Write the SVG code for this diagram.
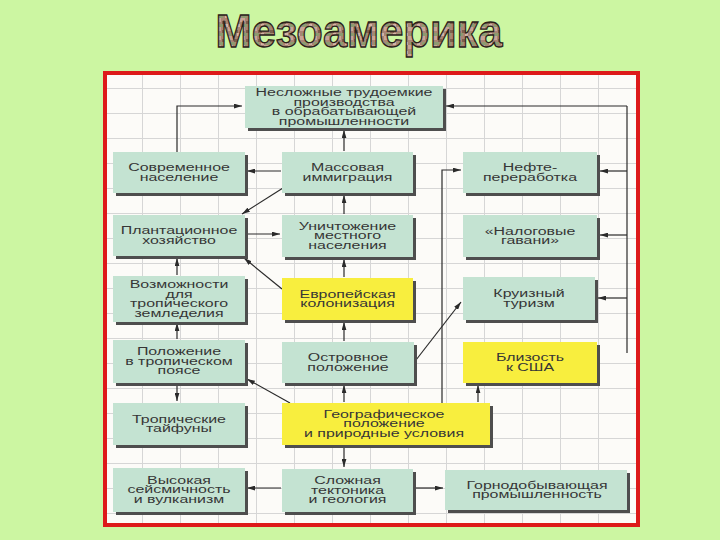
<svg xmlns="http://www.w3.org/2000/svg" width="720" height="540" viewBox="0 0 720 540">
<style>
.bg{fill:#ccf6a2}
.frame{fill:url(#grid);stroke:#dd1a1a;stroke-width:4}
.sh{fill:#4e4e4e}
.g{fill:#c4e3d2}
.y{fill:#f8ee3e}
.t{font-family:"Liberation Sans",Arial,sans-serif;font-size:11px;fill:#363636;text-anchor:middle}
.c{stroke:#2a2a2a;stroke-width:1.2;fill:none}
.a{marker-end:url(#ah)}
.title{font-family:"Liberation Sans",Arial,sans-serif;font-weight:bold;font-size:47px;fill:url(#tex);stroke:#2a2018;stroke-width:1.3;text-anchor:middle}
</style>
<defs>
<pattern id="grid" patternUnits="userSpaceOnUse" x="142" y="88" width="38" height="25">
<rect width="38" height="25" fill="#fcfbf8"/>
<path d="M0.5 0V25M0 0.5H38" stroke="#d6d6d6" stroke-width="1"/>
</pattern>
<pattern id="tex" patternUnits="userSpaceOnUse" width="12" height="9">
<rect width="12" height="9" fill="#a98574"/>
<rect x="0" y="0" width="5" height="4" fill="#c9a496"/>
<rect x="6" y="3" width="4" height="3" fill="#7d5f4e"/>
<rect x="2" y="6" width="5" height="3" fill="#8e9a70"/>
<rect x="9" y="6" width="3" height="3" fill="#d3b3a5"/>
</pattern>
<marker id="ah" viewBox="0 0 10 6" refX="10" refY="3" markerWidth="8" markerHeight="5" markerUnits="userSpaceOnUse" orient="auto">
<path d="M0 0L10 3L0 6z" fill="#2a2a2a"/>
</marker>
</defs>
<rect class="bg" x="0" y="0" width="720" height="540"/>
<text class="title" x="359" y="47" textLength="287" lengthAdjust="spacingAndGlyphs">Мезоамерика</text>
<rect class="frame" x="105" y="73" width="533" height="452"/>

<g id="connectors">
<polyline class="c a" points="177,152 177,106 242,106"/>
<line class="c a" x1="344" y1="151" x2="344" y2="130"/>
<line class="c a" x1="281" y1="171" x2="247" y2="171"/>
<line class="c a" x1="283" y1="188" x2="242" y2="214"/>
<line class="c a" x1="246" y1="234" x2="280" y2="234"/>
<line class="c a" x1="344" y1="214" x2="344" y2="195"/>
<line class="c a" x1="344" y1="277" x2="344" y2="259"/>
<line class="c a" x1="282" y1="289" x2="244" y2="258"/>
<line class="c a" x1="177" y1="275" x2="177" y2="258"/>
<line class="c a" x1="177" y1="339" x2="177" y2="323"/>
<line class="c a" x1="344" y1="341" x2="344" y2="322"/>
<line class="c a" x1="344" y1="402" x2="344" y2="385"/>
<line class="c a" x1="177" y1="384" x2="177" y2="401"/>
<line class="c a" x1="290" y1="403" x2="247" y2="379"/>
<line class="c a" x1="344" y1="446" x2="344" y2="467"/>
<line class="c a" x1="281" y1="488" x2="247" y2="488"/>
<line class="c a" x1="416" y1="488" x2="443" y2="488"/>
<line class="c a" x1="478" y1="402" x2="478" y2="385"/>
<polyline class="c a" points="442,403 442,170 461,170"/>
<line class="c a" x1="416" y1="360" x2="461" y2="302"/>
<line class="c" x1="627" y1="106" x2="627" y2="353"/>
<line class="c a" x1="627" y1="106" x2="446" y2="106"/>
<line class="c a" x1="627" y1="171" x2="600" y2="171"/>
<line class="c a" x1="627" y1="235" x2="600" y2="235"/>
<line class="c a" x1="627" y1="298" x2="598" y2="298"/>
</g>

<g id="n1"><rect class="sh" x="248" y="89" width="198" height="42"/><rect class="g" x="245" y="86" width="198" height="42"/>
<text class="t" transform="translate(344 0) scale(1.45 1)"><tspan x="0" y="96.25">Несложные трудоемкие</tspan><tspan x="0" y="105.75">производства</tspan><tspan x="0" y="115.25">в обрабатывающей</tspan><tspan x="0" y="124.75">промышленности</tspan></text></g>

<g id="n2"><rect class="sh" x="116" y="155" width="132" height="41"/><rect class="g" x="113" y="152" width="132" height="41"/>
<text class="t" transform="translate(179 0) scale(1.45 1)"><tspan x="0" y="171.25">Современное</tspan><tspan x="0" y="180.75">население</tspan></text></g>

<g id="n3"><rect class="sh" x="285" y="155" width="131" height="41"/><rect class="g" x="282" y="152" width="131" height="41"/>
<text class="t" transform="translate(347.5 0) scale(1.45 1)"><tspan x="0" y="171.25">Массовая</tspan><tspan x="0" y="180.75">иммиграция</tspan></text></g>

<g id="n4"><rect class="sh" x="466" y="155" width="134" height="41"/><rect class="g" x="463" y="152" width="134" height="41"/>
<text class="t" transform="translate(530 0) scale(1.45 1)"><tspan x="0" y="171.25">Нефте-</tspan><tspan x="0" y="180.75">переработка</tspan></text></g>

<g id="n5"><rect class="sh" x="116" y="218" width="132" height="41"/><rect class="g" x="113" y="215" width="132" height="41"/>
<text class="t" transform="translate(179 0) scale(1.45 1)"><tspan x="0" y="234.25">Плантационное</tspan><tspan x="0" y="243.75">хозяйство</tspan></text></g>

<g id="n6"><rect class="sh" x="285" y="218" width="131" height="42"/><rect class="g" x="282" y="215" width="131" height="42"/>
<text class="t" transform="translate(347.5 0) scale(1.45 1)"><tspan x="0" y="230">Уничтожение</tspan><tspan x="0" y="239.5">местного</tspan><tspan x="0" y="249">населения</tspan></text></g>

<g id="n7"><rect class="sh" x="466" y="218" width="134" height="42"/><rect class="g" x="463" y="215" width="134" height="42"/>
<text class="t" transform="translate(530 0) scale(1.45 1)"><tspan x="0" y="234.75">«Налоговые</tspan><tspan x="0" y="244.25">гавани»</tspan></text></g>

<g id="n8"><rect class="sh" x="116" y="279" width="132" height="46"/><rect class="g" x="113" y="276" width="132" height="46"/>
<text class="t" transform="translate(179 0) scale(1.45 1)"><tspan x="0" y="288.25">Возможности</tspan><tspan x="0" y="297.75">для</tspan><tspan x="0" y="307.25">тропического</tspan><tspan x="0" y="316.75">земледелия</tspan></text></g>

<g id="n9"><rect class="sh" x="285" y="281" width="131" height="42"/><rect class="y" x="282" y="278" width="131" height="42"/>
<text class="t" transform="translate(347.5 0) scale(1.45 1)"><tspan x="0" y="297.75">Европейская</tspan><tspan x="0" y="307.25">колонизация</tspan></text></g>

<g id="n10"><rect class="sh" x="466" y="280" width="132" height="43"/><rect class="g" x="463" y="277" width="132" height="43"/>
<text class="t" transform="translate(529 0) scale(1.45 1)"><tspan x="0" y="297.25">Круизный</tspan><tspan x="0" y="306.75">туризм</tspan></text></g>

<g id="n11"><rect class="sh" x="116" y="343" width="132" height="43"/><rect class="g" x="113" y="340" width="132" height="43"/>
<text class="t" transform="translate(179 0) scale(1.45 1)"><tspan x="0" y="355.5">Положение</tspan><tspan x="0" y="365">в тропическом</tspan><tspan x="0" y="374.5">поясе</tspan></text></g>

<g id="n12"><rect class="sh" x="285" y="345" width="132" height="41"/><rect class="g" x="282" y="342" width="132" height="41"/>
<text class="t" transform="translate(348 0) scale(1.45 1)"><tspan x="0" y="361.25">Островное</tspan><tspan x="0" y="370.75">положение</tspan></text></g>

<g id="n13"><rect class="sh" x="466" y="345" width="134" height="41"/><rect class="y" x="463" y="342" width="134" height="41"/>
<text class="t" transform="translate(530 0) scale(1.45 1)"><tspan x="0" y="361.25">Близость</tspan><tspan x="0" y="370.75">к США</tspan></text></g>

<g id="n14"><rect class="sh" x="116" y="406" width="132" height="42"/><rect class="g" x="113" y="403" width="132" height="42"/>
<text class="t" transform="translate(179 0) scale(1.45 1)"><tspan x="0" y="422.75">Тропические</tspan><tspan x="0" y="432.25">тайфуны</tspan></text></g>

<g id="n15"><rect class="sh" x="285" y="406" width="208" height="42"/><rect class="y" x="282" y="403" width="208" height="42"/>
<text class="t" transform="translate(384 0) scale(1.45 1)"><tspan x="0" y="418">Географическое</tspan><tspan x="0" y="427.5">положение</tspan><tspan x="0" y="437">и природные условия</tspan></text></g>

<g id="n16"><rect class="sh" x="116" y="471" width="132" height="44"/><rect class="g" x="113" y="468" width="132" height="44"/>
<text class="t" transform="translate(179 0) scale(1.45 1)"><tspan x="0" y="484">Высокая</tspan><tspan x="0" y="493.5">сейсмичность</tspan><tspan x="0" y="503">и вулканизм</tspan></text></g>

<g id="n17"><rect class="sh" x="285" y="472" width="131" height="43"/><rect class="g" x="282" y="469" width="131" height="43"/>
<text class="t" transform="translate(347.5 0) scale(1.45 1)"><tspan x="0" y="484.5">Сложная</tspan><tspan x="0" y="494">тектоника</tspan><tspan x="0" y="503.5">и геология</tspan></text></g>

<g id="n18"><rect class="sh" x="448" y="473" width="182" height="40"/><rect class="g" x="445" y="470" width="182" height="40"/>
<text class="t" transform="translate(537 0) scale(1.45 1)"><tspan x="0" y="488.75">Горнодобывающая</tspan><tspan x="0" y="498.25">промышленность</tspan></text></g>
</svg>
